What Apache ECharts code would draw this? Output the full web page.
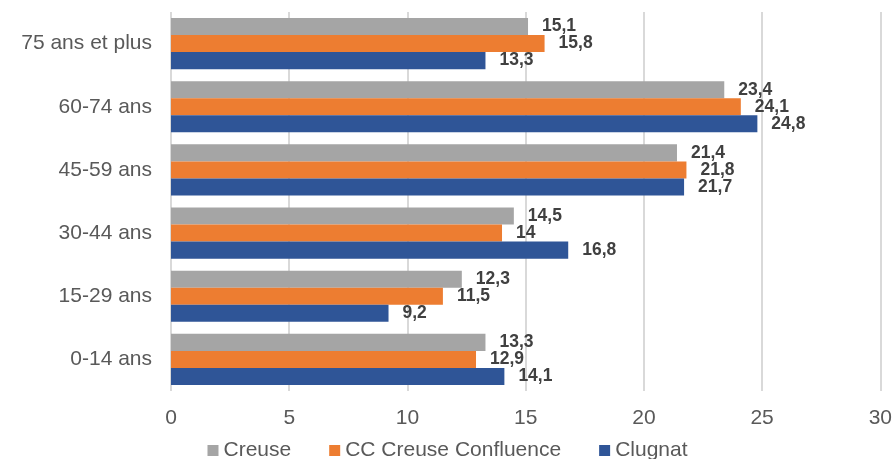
<!DOCTYPE html>
<html>
<head>
<meta charset="utf-8">
<script src="https://cdn.jsdelivr.net/npm/echarts@6/dist/echarts.min.js"></script>
<style>
  html, body { margin: 0; padding: 0; background: #fff; }
  #chart { width: 895px; height: 459px; }
</style>
</head>
<body>
<div id="chart"></div>
<script>
// tranches d'âge, de bas en haut
var categories = ['0-14 ans', '15-29 ans', '30-44 ans', '45-59 ans', '60-74 ans', '75 ans et plus']
var creuse = [13.3, 12.3, 14.5, 21.4, 23.4, 15.1]
var ccCreuse = [12.9, 11.5, 14, 21.8, 24.1, 15.8]
var clugnat = [14.1, 9.2, 16.8, 21.7, 24.8, 13.3]
var xTicks = [0, 5, 10, 15, 20, 25, 30]

var font = '"Liberation Sans", Arial, sans-serif'

function serie (name, data, color) {
  return {
    type: 'bar',
    name: name,
    data: data,
    barGap: '0%',
    barCategoryGap: '19%',
    itemStyle: { color: color },
    label: {
      show: true,
      position: 'right',
      distance: 14,
      fontFamily: font,
      fontSize: 17.5,
      fontWeight: 'bold',
      color: '#404040',
      formatter: function (p) {
        return String(p.value).replace('.', ',')
      }
    }
  }
}

var chart = echarts.init(document.getElementById('chart'))
chart.setOption({
  animation: false,
  grid: { left: 171, right: 12, top: 12, bottom: 68, containLabel: false },
  legend: {
    top: 435,
    left: 'center',
    itemWidth: 11,
    itemHeight: 11,
    itemGap: 38,
    icon: 'rect',
    textStyle: { fontFamily: font, fontSize: 21, color: '#595959' },
    data: ['Creuse', 'CC Creuse Confluence', 'Clugnat']
  },
  xAxis: {
    type: 'value',
    min: xTicks[0],
    max: xTicks[xTicks.length - 1],
    interval: 5,
    axisLine: { show: false },
    axisTick: { show: false },
    splitLine: { show: true, lineStyle: { color: '#D9D9D9', width: 2 } },
    axisLabel: { fontFamily: font, fontSize: 21, color: '#595959', margin: 17 }
  },
  yAxis: {
    type: 'category',
    data: categories,
    axisLine: { show: false },
    axisTick: { show: false },
    axisLabel: { fontFamily: font, fontSize: 21, color: '#595959', margin: 19 }
  },
  series: [
    serie('Creuse', creuse, '#A5A5A5'),
    serie('CC Creuse Confluence', ccCreuse, '#ED7D31'),
    serie('Clugnat', clugnat, '#2F5597')
  ]
})
</script>
</body>
</html>
